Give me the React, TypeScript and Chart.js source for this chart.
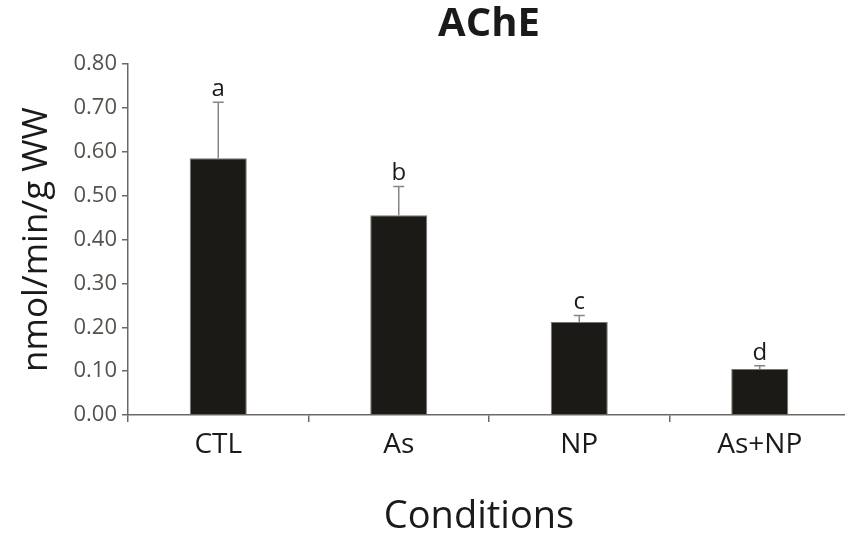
import React, { useEffect, useRef } from "react";
import { Chart, registerables } from "chart.js";

Chart.register(...registerables);

// AChE activity per condition (nmol/min/g WW)
const categories = ["CTL", "As", "NP", "As+NP"];
const means = [0.585, 0.455, 0.212, 0.105];
const sdErrors = [0.128, 0.066, 0.015, 0.007];
const groupLetters = ["a", "b", "c", "d"];
const yTicks = [0, 0.1, 0.2, 0.3, 0.4, 0.5, 0.6, 0.7, 0.8];

const FONT = "'Open Sans', 'Noto Sans', sans-serif";
const AXIS_GREY = "#6e6864";
const TICK_GREY = "#55514d";
const ERR_GREY = "#8a8480";

// Upward-only error bars with caps, plus significance letters above them
const errorBarPlugin = {
  id: "errorBars",
  afterDatasetsDraw(chart: any) {
    const { ctx, scales } = chart;
    const xs = scales.x;
    const ys = scales.y;
    ctx.save();
    for (let i = 0; i < means.length; i++) {
      const x = xs.getPixelForValue(i);
      const yBar = ys.getPixelForValue(means[i]);
      const yTop = ys.getPixelForValue(means[i] + sdErrors[i]);
      ctx.strokeStyle = ERR_GREY;
      ctx.lineWidth = 1.5;
      ctx.beginPath();
      ctx.moveTo(x, yBar);
      ctx.lineTo(x, yTop);
      ctx.moveTo(x - 5.5, yTop);
      ctx.lineTo(x + 5.5, yTop);
      ctx.stroke();
      ctx.fillStyle = "#1a1a1a";
      ctx.font = `24px ${FONT}`;
      ctx.textAlign = "center";
      ctx.textBaseline = "alphabetic";
      ctx.fillText(groupLetters[i], x, yTop - 6);
    }
    ctx.restore();
  },
};

// X-axis caption, set slightly left of the plot centre
const xCaptionPlugin = {
  id: "xCaption",
  afterDraw(chart: any) {
    const { ctx, chartArea } = chart;
    ctx.save();
    ctx.fillStyle = "#1a1a1a";
    ctx.font = `38px ${FONT}`;
    ctx.textAlign = "center";
    ctx.textBaseline = "alphabetic";
    const cx = (chartArea.left + chartArea.right) / 2 - 10;
    ctx.fillText("Conditions", cx, chartArea.bottom + 113);
    ctx.restore();
  },
};

export default function App() {
  const canvasRef = useRef<HTMLCanvasElement | null>(null);

  useEffect(() => {
    if (!canvasRef.current) return;
    const chart = new Chart(canvasRef.current, {
      type: "bar",
      data: {
        labels: categories,
        datasets: [
          {
            data: means,
            backgroundColor: "#1c1a17",
            borderColor: "#7a7470",
            borderWidth: 1,
            barPercentage: 0.316,
            categoryPercentage: 1,
          },
        ],
      },
      options: {
        animation: false,
        responsive: false,
        maintainAspectRatio: false,
        layout: { padding: 0 },
        plugins: {
          legend: { display: false },
          tooltip: { enabled: false },
          title: {
            display: true,
            text: "AChE",
            fullSize: false,
            color: "#1a1a1a",
            font: { family: FONT, size: 40, weight: "bold", lineHeight: 1.2 },
            padding: { top: 1, bottom: 15 },
          },
        },
        scales: {
          x: {
            offset: true,
            grid: {
              offset: true,
              drawOnChartArea: false,
              drawTicks: true,
              tickLength: 7,
              color: AXIS_GREY,
              lineWidth: 1.5,
            },
            border: { display: true, color: AXIS_GREY, width: 1.5 },
            ticks: {
              color: "#1a1a1a",
              font: { family: FONT, size: 28 },
              padding: 6,
            },
            afterFit(scale: any) {
              scale.height = 124;
            },
          },
          y: {
            min: 0,
            max: 0.8,
            afterBuildTicks(scale: any) {
              scale.ticks = yTicks.map((v) => ({ value: v }));
            },
            grid: {
              drawOnChartArea: false,
              drawTicks: true,
              tickLength: 6,
              color: AXIS_GREY,
              lineWidth: 1.5,
            },
            border: { display: true, color: AXIS_GREY, width: 1.5 },
            ticks: {
              color: TICK_GREY,
              font: { family: FONT, size: 22 },
              padding: 5,
              callback: (v: any) => Number(v).toFixed(2),
            },
            title: {
              display: true,
              text: "nmol/min/g WW",
              color: "#1a1a1a",
              font: { family: FONT, size: 35, lineHeight: 1.2 },
              padding: { top: 16, bottom: 0 },
            },
            afterFit(scale: any) {
              scale.width = 128;
            },
          },
        },
      },
      plugins: [errorBarPlugin, xCaptionPlugin],
    });
    return () => chart.destroy();
  }, []);

  return (
    <div style={{ position: "fixed", left: 0, top: 0, width: 850, height: 539, background: "#fff" }}>
      <canvas ref={canvasRef} width={850} height={539} style={{ width: 850, height: 539, display: "block" }} />
    </div>
  );
}
